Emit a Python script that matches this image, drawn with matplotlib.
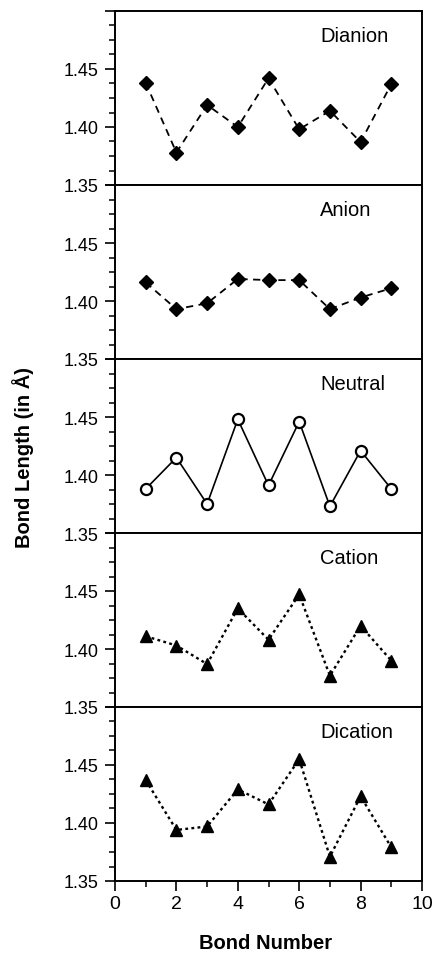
import matplotlib
matplotlib.use("Agg")
import matplotlib.pyplot as plt
from matplotlib.ticker import MultipleLocator

plt.rcParams['font.family'] = ['Liberation Sans', 'DejaVu Sans']

# Bond index along the chain
bonds = [1, 2, 3, 4, 5, 6, 7, 8, 9]

# Bond lengths (Angstrom)
dianion = [1.438, 1.378, 1.419, 1.400, 1.442, 1.398, 1.414, 1.387, 1.437]
anion = [1.416, 1.393, 1.398, 1.419, 1.418, 1.418, 1.393, 1.403, 1.411]
neutral = [1.388, 1.415, 1.375, 1.448, 1.391, 1.446, 1.373, 1.421, 1.388]
cation = [1.411, 1.403, 1.387, 1.435, 1.408, 1.447, 1.377, 1.420, 1.390]
dication = [1.437, 1.394, 1.397, 1.429, 1.416, 1.455, 1.371, 1.423, 1.379]

names = ["Dianion", "Anion", "Neutral", "Cation", "Dication"]
series = [dianion, anion, neutral, cation, dication]

# line style / marker per state
dashed = (0, (4, 3))
dotted = (0, (1.2, 1.4))
styles = [
    dict(ls=dashed, marker='D', ms=7.3, mfc='black', lw=1.3),
    dict(ls=dashed, marker='D', ms=7.3, mfc='black', lw=1.3),
    dict(ls='-', marker='o', ms=8, mfc='white', mew=1.6, lw=1.2),
    dict(ls=dotted, marker='^', ms=9, mfc='black', lw=1.7),
    dict(ls=dotted, marker='^', ms=9, mfc='black', lw=1.7),
]

fig = plt.figure(figsize=(4.33, 9.54), dpi=100)
left, width = 115 / 433, 307 / 433
top, bottom = 1 - 12 / 954, 1 - 882 / 954
h = (top - bottom) / 5

for i, (name, vals, st) in enumerate(zip(names, series, styles)):
    ax = fig.add_axes([left, top - (i + 1) * h, width, h])
    ax.plot(bonds, vals, color='black', mec='black', **st)
    ax.set_xlim(0, 10)
    ax.set_ylim(1.35, 1.50)
    ax.set_yticks([1.35, 1.40, 1.45, 1.50])
    ax.set_yticklabels(['1.35', '1.40', '1.45', ''])
    ax.yaxis.set_minor_locator(MultipleLocator(0.0125))
    ax.xaxis.set_major_locator(MultipleLocator(2))
    ax.xaxis.set_minor_locator(MultipleLocator(1))
    for s in ax.spines.values():
        s.set_linewidth(1.4)
    ax.tick_params(axis='y', which='major', direction='out', length=7, width=1.2,
                   labelsize=13, pad=5, right=False)
    ax.tick_params(axis='y', which='minor', direction='out', length=4, width=1.1, right=False)
    if i < 4:
        ax.tick_params(axis='x', which='both', bottom=False, top=False, labelbottom=False)
    else:
        ax.tick_params(axis='x', which='major', direction='out', length=7, width=1.2,
                       labelsize=14, pad=3, top=False)
        ax.tick_params(axis='x', which='minor', direction='out', length=4, width=1.1, top=False)
    ax.text(0.668, 0.862, name, transform=ax.transAxes, ha='left', va='center', fontsize=14.5)

fig.text(23 / 433, 1 - 457 / 954, "Bond Length (in Å)", rotation=90, ha='center', va='center',
         fontsize=14.5, fontweight='bold')
fig.text(266 / 433, 1 - 944 / 954, "Bond Number", ha='center', va='center',
         fontsize=14.5, fontweight='bold')

fig.savefig("out.png", dpi=100)
